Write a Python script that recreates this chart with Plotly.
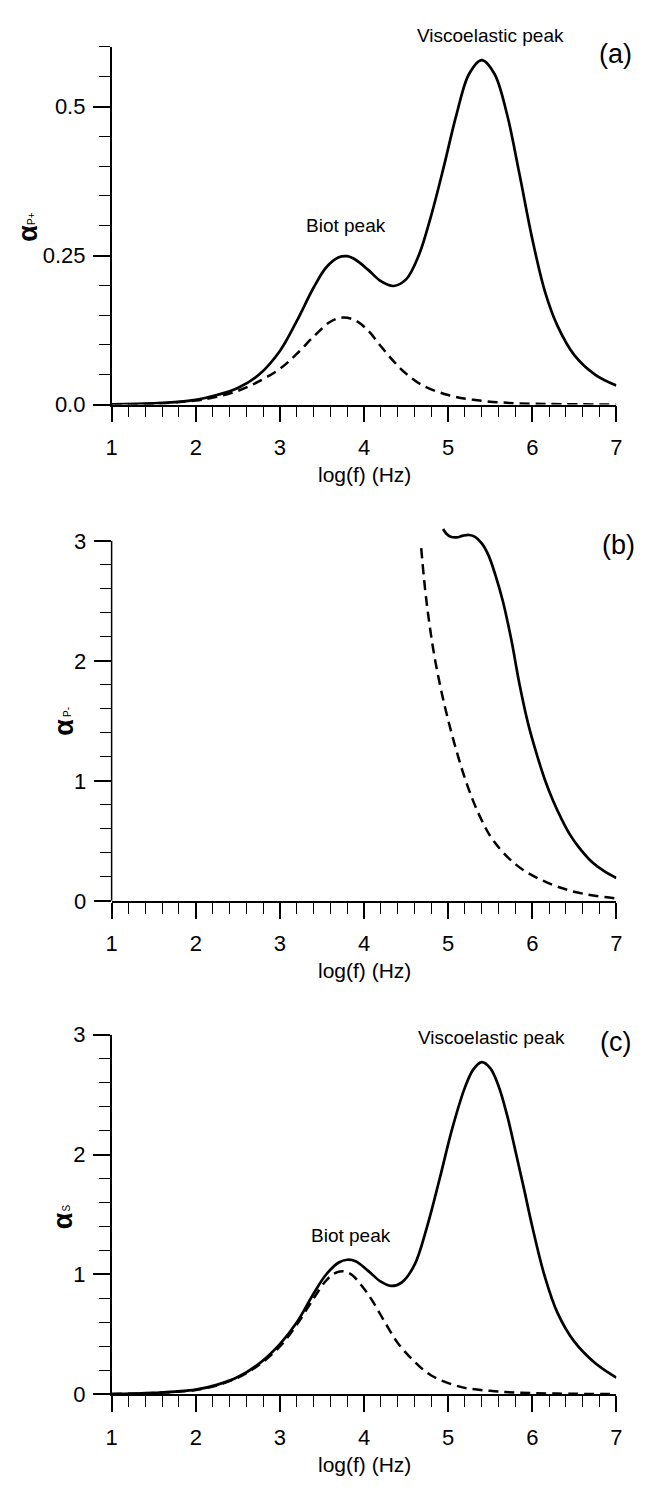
import plotly.graph_objects as go

# ---------------- data ----------------
# Panel (a): alpha_P+
a_solid_x = [1.0, 1.5, 2.0, 2.25, 2.5, 2.75, 3.0, 3.2, 3.4, 3.55, 3.7, 3.8, 3.9, 4.05, 4.2, 4.35,
             4.5, 4.65, 4.8, 4.95, 5.1, 5.25, 5.4, 5.55, 5.7, 5.85, 6.0, 6.15, 6.3, 6.5, 6.75, 7.0]
a_solid_y = [0.0005, 0.002, 0.008, 0.016, 0.028, 0.050, 0.090, 0.140, 0.196, 0.230, 0.247, 0.249, 0.243, 0.226, 0.207, 0.199,
             0.210, 0.250, 0.318, 0.400, 0.487, 0.555, 0.578, 0.555, 0.487, 0.385, 0.278, 0.190, 0.132, 0.083, 0.050, 0.032]
a_dash_x = [1.0, 1.5, 2.0, 2.25, 2.5, 2.75, 3.0, 3.2, 3.4, 3.6, 3.75, 3.9, 4.05, 4.2, 4.35, 4.5, 4.7,
            5.0, 5.3, 5.7, 6.2, 7.0]
a_dash_y = [0.0004, 0.0015, 0.007, 0.013, 0.023, 0.039, 0.060, 0.085, 0.114, 0.139, 0.146, 0.141, 0.124, 0.098, 0.073, 0.052, 0.032,
            0.016, 0.008, 0.003, 0.001, 0.0003]

# Panel (b): alpha_P-
b_solid_x = [4.94, 4.98, 5.03, 5.10, 5.18, 5.25, 5.32, 5.40, 5.48, 5.56, 5.65, 5.75, 5.85, 5.95,
             6.05, 6.15, 6.25, 6.35, 6.45, 6.55, 6.70, 6.85, 7.0]
b_solid_y = [3.10, 3.06, 3.035, 3.03, 3.045, 3.05, 3.035, 2.98, 2.88, 2.72, 2.50, 2.18, 1.80, 1.48,
             1.23, 1.01, 0.83, 0.68, 0.55, 0.45, 0.33, 0.25, 0.19]
b_dash_x = [4.68, 4.742, 4.847, 5.003, 5.21, 5.38, 5.54, 5.81, 6.12, 6.51, 7.0]
b_dash_y = [2.94, 2.50, 2.00, 1.50, 1.00, 0.70, 0.50, 0.30, 0.17, 0.074, 0.02]

# Panel (c): alpha_S
c_solid_x = [1.0, 1.5, 2.0, 2.25, 2.5, 2.75, 3.0, 3.2, 3.4, 3.55, 3.7, 3.8, 3.9, 4.05, 4.2, 4.32, 4.45,
             4.6, 4.75, 4.9, 5.05, 5.2, 5.3, 5.4, 5.5, 5.6, 5.7, 5.8, 5.9, 6.0, 6.15, 6.3, 6.5, 6.75, 7.0]
c_solid_y = [0.004, 0.013, 0.040, 0.080, 0.145, 0.255, 0.42, 0.60, 0.84, 1.00, 1.10, 1.123, 1.11, 1.03, 0.94, 0.905, 0.935,
             1.08, 1.40, 1.80, 2.22, 2.56, 2.71, 2.77, 2.72, 2.57, 2.33, 2.03, 1.72, 1.40, 0.98, 0.68, 0.44, 0.26, 0.14]
c_dash_x = [1.0, 1.5, 2.0, 2.25, 2.5, 2.75, 3.0, 3.2, 3.4, 3.55, 3.65, 3.75, 3.85, 3.98, 4.1, 4.25, 4.4,
            4.57, 4.8, 5.15, 5.5, 5.8, 6.3, 7.0]
c_dash_y = [0.004, 0.012, 0.038, 0.075, 0.14, 0.245, 0.40, 0.58, 0.80, 0.95, 1.01, 1.027, 1.00, 0.90, 0.78, 0.60, 0.43,
            0.295, 0.158, 0.063, 0.030, 0.016, 0.007, 0.003]

x_title = "log(f) (Hz)"
y_symbol = "α"
y_subscripts = ["P+", "P-", "S"]
panel_tags = ["(a)", "(b)", "(c)"]
peak_labels = ["Viscoelastic peak", "Biot peak"]
a_tickvals = [0, 0.25, 0.5]
a_ticktext = ["0.0", "0.25", "0.5"]

# ---------------- figure ----------------
W, H = 654, 1493
FONT = "Liberation Sans, Arial, Helvetica, sans-serif"

fig = go.Figure()

def px2x(p):
    return p / W

def py2y(p):
    return 1 - p / H

x_dom = [px2x(107.6), px2x(621.8)]
y_doms = [[py2y(399.3), py2y(35.5)],
          [py2y(904.0), py2y(904.0 - 3.13 * 122.0)],
          [py2y(1406.0), py2y(1040.0)]]
y_ranges = [[0, 0.6], [0, 3.13], [0, 3.0]]
y_dticks = [0.25, 1, 1]
y_minor = [0.05, 0.2, 0.2]

series = [(a_solid_x, a_solid_y, a_dash_x, a_dash_y),
          (b_solid_x, b_solid_y, b_dash_x, b_dash_y),
          (c_solid_x, c_solid_y, c_dash_x, c_dash_y)]

for i, (sx, sy, dx, dy) in enumerate(series):
    xa = "x" if i == 0 else f"x{i+1}"
    ya = "y" if i == 0 else f"y{i+1}"
    fig.add_trace(go.Scatter(x=sx, y=sy, mode="lines", xaxis=xa, yaxis=ya,
                             line=dict(color="black", width=2.7, shape="spline", smoothing=1.0),
                             showlegend=False, hoverinfo="skip"))
    fig.add_trace(go.Scatter(x=dx, y=dy, mode="lines", xaxis=xa, yaxis=ya,
                             line=dict(color="black", width=2.5, dash="10px,6px", shape="spline", smoothing=1.0),
                             showlegend=False, hoverinfo="skip"))

layout = dict(width=W, height=H, margin=dict(l=0, r=0, t=0, b=0),
              paper_bgcolor="white", plot_bgcolor="white",
              font=dict(family=FONT, color="black", size=22), showlegend=False)

for i in range(3):
    xk = "xaxis" if i == 0 else f"xaxis{i+1}"
    yk = "yaxis" if i == 0 else f"yaxis{i+1}"
    ya = "y" if i == 0 else f"y{i+1}"
    xa = "x" if i == 0 else f"x{i+1}"
    layout[xk] = dict(domain=x_dom, anchor=ya, range=[1, 7], dtick=1, tick0=1,
                      showgrid=False, zeroline=False, showline=True, linecolor="black", linewidth=1.5,
                      ticks="outside", ticklen=16, tickwidth=1.5, tickcolor="black",
                      ticklabelstandoff=6,
                      tickfont=dict(family=FONT, size=22, color="black"),
                      minor=dict(dtick=0.2, tick0=1, ticks="outside", ticklen=11, tickwidth=1.3,
                                 tickcolor="black", showgrid=False))
    layout[yk] = dict(domain=y_doms[i], anchor=xa, range=y_ranges[i], dtick=y_dticks[i], tick0=0,
                      showgrid=False, zeroline=False, showline=(i != 1), linecolor="black", linewidth=1.5,
                      ticks="outside", ticklen=17, tickwidth=1.5, tickcolor="black",
                      ticklabelstandoff=3,
                      tickfont=dict(family=FONT, size=22, color="black"),
                      minor=dict(dtick=y_minor[i], tick0=0, ticks="outside", ticklen=11, tickwidth=1.3,
                                 tickcolor="black", showgrid=False))
    if i == 0:
        layout[yk]["tickmode"] = "array"
        layout[yk]["tickvals"] = a_tickvals
        layout[yk]["ticktext"] = a_ticktext

fig.update_layout(**layout)

# y axis line for panel (b) drawn only up to 3
fig.add_shape(type="line", xref="x2 domain", yref="y2", x0=0, x1=0, y0=0, y1=3,
              line=dict(color="black", width=1.5))

ann = []
def add_text(txt, px, py, size, angle=0, weight="normal"):
    ann.append(dict(text=txt, x=px2x(px), y=py2y(py), xref="paper", yref="paper",
                    xanchor="center", yanchor="middle", showarrow=False, textangle=angle,
                    font=dict(family=FONT, size=size, color="black", weight=weight)))

add_text(peak_labels[0], 494, 24, 19)
add_text(panel_tags[0], 621, 43, 27)
add_text(peak_labels[1], 346, 217, 19)
add_text(panel_tags[1], 624, 542, 27)
add_text(peak_labels[0], 495, 1043, 19)
add_text(panel_tags[2], 621, 1048, 27)
add_text(peak_labels[1], 351, 1244, 19)

for py in [470, 975, 1477]:
    add_text(x_title, 365, py, 21)

# y-axis titles: alpha symbol with a small subscript, rotated
title_pos = [(23, 225), (59, 727), (59, 1229)]
for (tx, ty), sub in zip(title_pos, y_subscripts):
    add_text(y_symbol, tx, ty, 27, -90, "bold")
    add_text(sub, tx + 3, ty - 13 - 2 * (len(sub) - 1), 10, -90)

fig.update_layout(annotations=ann)

fig.write_html("out.html", post_script="document.body.style.margin='0';document.body.style.padding='0';")
